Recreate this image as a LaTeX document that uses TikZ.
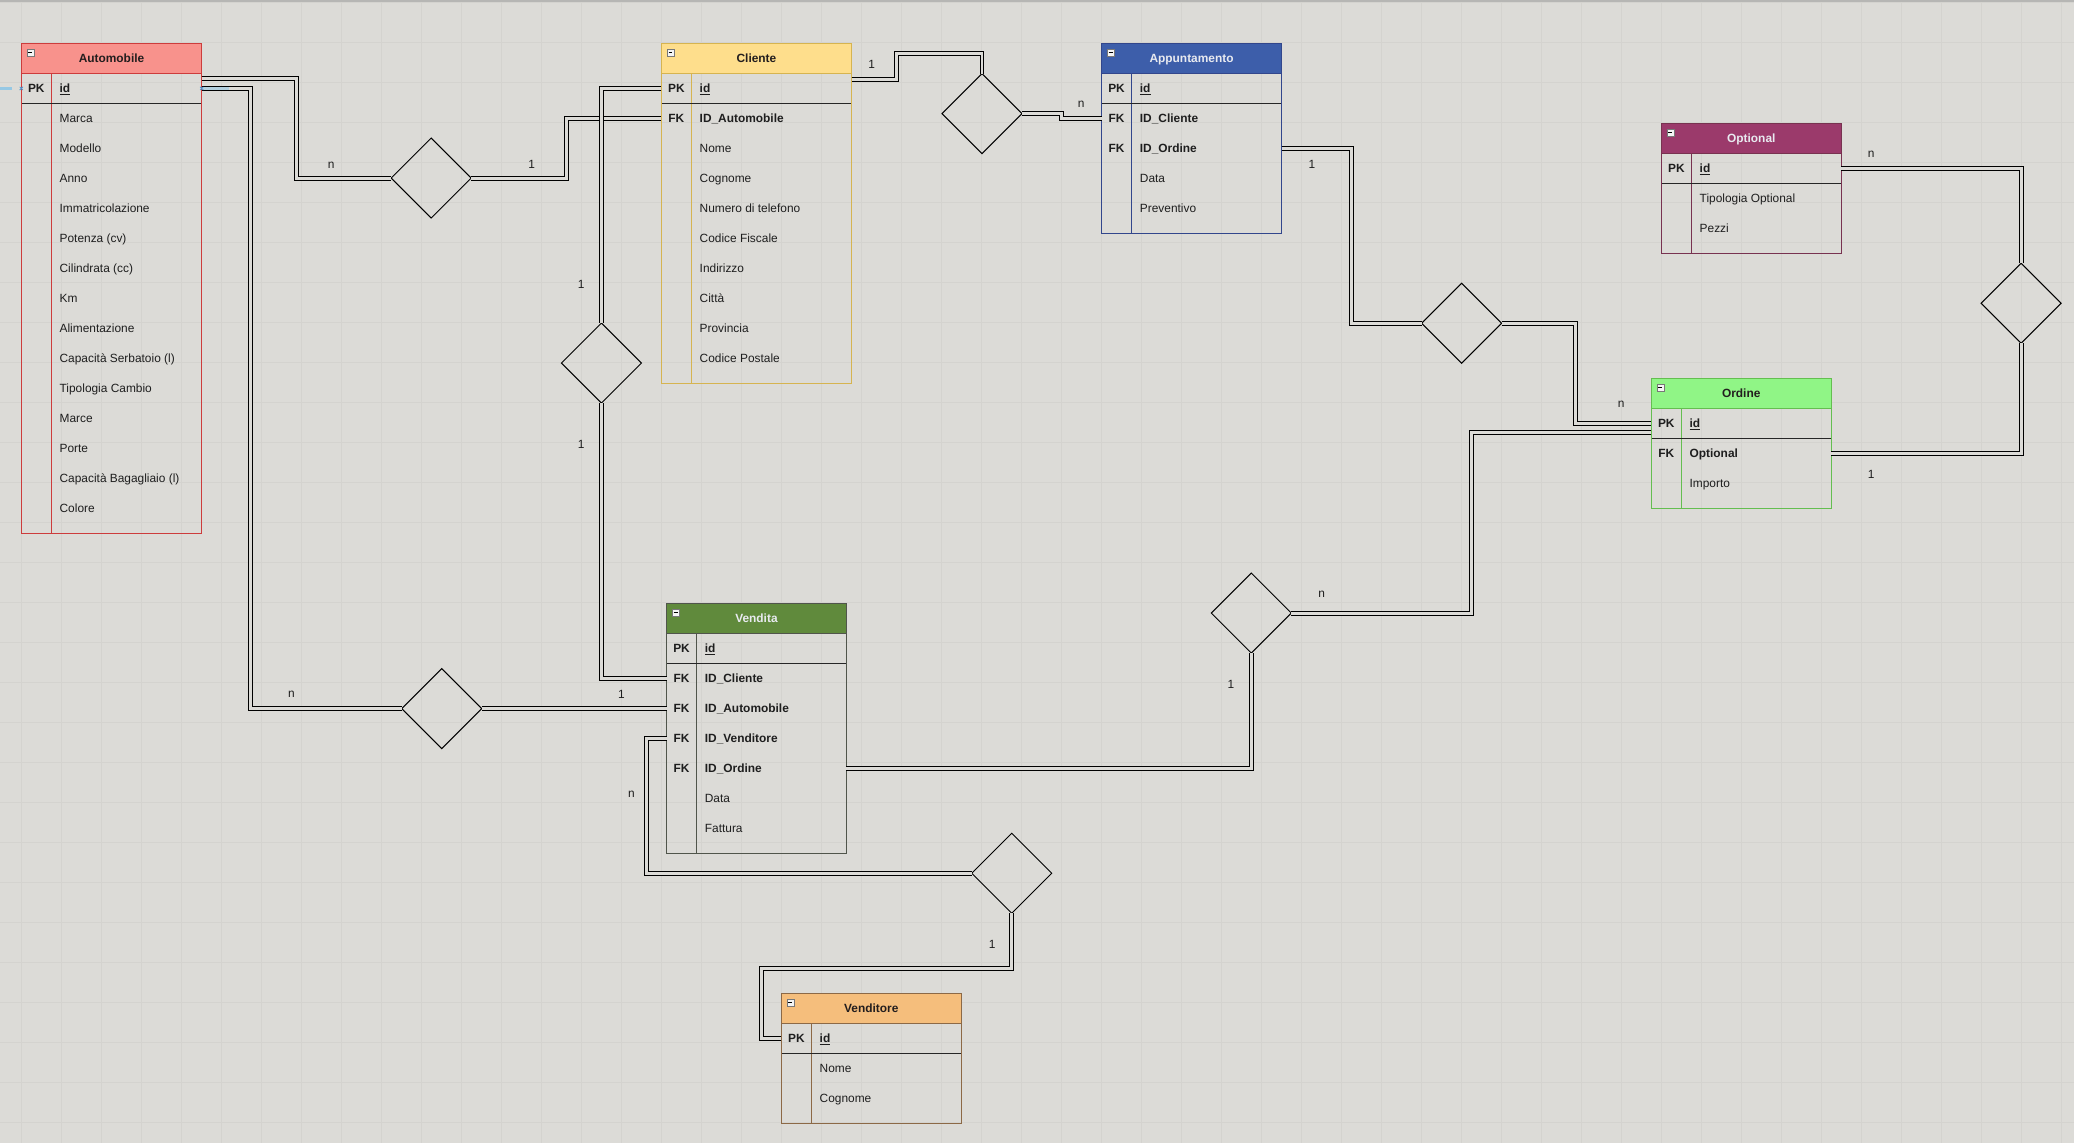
\documentclass[tikz,border=0pt]{standalone}
\usepackage{fontspec}
\setmainfont{Liberation Sans}
\usetikzlibrary{shapes.geometric,calc}
\definecolor{bgc}{RGB}{220,219,215}
\definecolor{gridc}{RGB}{212,211,207}
\definecolor{topc}{RGB}{182,182,180}
\definecolor{txtc}{RGB}{30,30,30}
\definecolor{ttlDark}{RGB}{35,30,30}
\definecolor{ttlLight}{RGB}{232,234,240}
\definecolor{iconc}{RGB}{120,120,120}
\definecolor{selc}{RGB}{150,200,228}
\definecolor{selx}{RGB}{70,150,210}
\definecolor{autoF}{RGB}{248,146,140}
\definecolor{autoB}{RGB}{205,60,60}
\definecolor{cliF}{RGB}{254,222,140}
\definecolor{cliB}{RGB}{214,180,80}
\definecolor{appF}{RGB}{61,94,170}
\definecolor{appB}{RGB}{50,70,140}
\definecolor{optF}{RGB}{155,58,107}
\definecolor{optB}{RGB}{120,50,80}
\definecolor{ordF}{RGB}{144,245,134}
\definecolor{ordB}{RGB}{100,190,80}
\definecolor{venF}{RGB}{96,138,60}
\definecolor{venB}{RGB}{80,85,75}
\definecolor{vdrF}{RGB}{245,190,124}
\definecolor{vdrB}{RGB}{140,105,70}
\newcommand{\erid}{\textbf{\underline{id}}}
\newcommand{\ertable}[9]{%
  \pgfmathsetmacro{\erH}{52.9+#5*22.7}%
  \fill[#6] (#2,#3) rectangle ({#2+#4},{#3+22.7});
  \draw[#7, line width=0.75pt] (#2,{#3+22.7}) -- ({#2+#4},{#3+22.7});
  \draw[#7, line width=0.75pt] ({#2+22.7},{#3+22.7}) -- ({#2+22.7},{#3+\erH});
  \draw[black!85, line width=0.9pt] (#2,{#3+45.4}) -- ({#2+#4},{#3+45.4});
  \node[draw=#7, line width=0.75pt, minimum width=#4pt, minimum height=\erH pt, inner sep=0pt, outer sep=0pt, anchor=north west] (#1) at (#2,#3) {};
  \draw[iconc, fill=white!92!gray, line width=0.4pt] ({#2+4.3},{#3+4.3}) rectangle ({#2+9.5},{#3+9.7});
  \draw[black, line width=0.8pt] ({#2+5.4},{#3+7.1}) -- ({#2+8.4},{#3+7.1});
  \node[ttl, text=#8] (#1-title) at ({#2+#4/2},{#3+12.1}) {#9};
}
\newcommand{\errows}[5]{%
  \foreach \erK/\erA [count=\i from 0] in {#5} {%
    \pgfmathsetmacro{\erY}{#3+34.05+\i*22.7}
    \pgfmathsetmacro{\erT}{\erY+0.8}
    \node[rowc, minimum width=#4pt] (#1-r\i) at ({#2+#4/2},\erY) {};
    \node[keyc] (#1-k\i) at ({#2+11.35},\erT) {\erK};
    \node[attrc] (#1-t\i) at ({#2+28.8},\erT) {\erA};
  }%
}
\begin{document}
\begin{tikzpicture}[x=1pt,y=-1pt,
  ttl/.style={font=\fontsize{9}{10}\selectfont\bfseries, inner sep=0pt, text height=6.6pt, text depth=1.9pt},
  rowc/.style={minimum height=22.7pt, inner sep=0pt, outer sep=0pt, draw=none},
  keyc/.style={font=\fontsize{9}{10}\selectfont\bfseries, text=txtc, inner sep=0pt, text height=6.6pt, text depth=1.9pt},
  attrc/.style={font=\fontsize{9}{10}\selectfont, text=txtc, inner sep=0pt, anchor=west, text height=6.6pt, text depth=1.9pt},
  lab/.style={font=\fontsize{9}{10}\selectfont, text=txtc, inner sep=0pt},
  rel/.style={draw=black, line width=0.75pt, double=bgc, double distance=2.25pt},
  rhomb/.style={diamond, draw=black, line width=0.75pt, minimum width=60.5pt, minimum height=60.5pt, inner sep=0pt, outer sep=0pt}]
\useasboundingbox (0,0) rectangle (1568,864.1);
\fill[bgc] (0,0) rectangle (1568,864.1);
\foreach \gx in {0,...,51} {\draw[gridc, line width=0.9pt] ({16.4+\gx*30.24},0) -- ({16.4+\gx*30.24},864.1);}
\foreach \gy in {0,...,28} {\draw[gridc, line width=0.9pt] (0,{2+\gy*30.24}) -- (1568,{2+\gy*30.24});}
\draw[topc, line width=1.5pt] (0,1.0) -- (1568,1.0);

% tables
\ertable{auto}{16.1}{32.8}{136.4}{14}{autoF}{autoB}{ttlDark}{Automobile}
\errows{auto}{16.1}{32.8}{136.4}{PK/\erid, /Marca, /Modello, /Anno, /Immatricolazione, /Potenza (cv), /Cilindrata (cc), /Km, /Alimentazione, /Capacità Serbatoio (l), /Tipologia Cambio, /Marce, /Porte, /Capacità Bagagliaio (l), /Colore}

\ertable{cli}{500}{32.8}{143.8}{9}{cliF}{cliB}{ttlDark}{Cliente}
\errows{cli}{500}{32.8}{143.8}{PK/\erid, FK/\textbf{ID\_Automobile}, /Nome, /Cognome, /Numero di telefono, /Codice Fiscale, /Indirizzo, /Città, /Provincia, /Codice Postale}

\ertable{app}{832.8}{32.8}{136.1}{4}{appF}{appB}{ttlLight}{Appuntamento}
\errows{app}{832.8}{32.8}{136.1}{PK/\erid, FK/\textbf{ID\_Cliente}, FK/\textbf{ID\_Ordine}, /Data, /Preventivo}

\ertable{opt}{1256}{93.2}{136}{2}{optF}{optB}{ttlLight}{Optional}
\errows{opt}{1256}{93.2}{136}{PK/\erid, /Tipologia Optional, /Pezzi}

\ertable{ord}{1248.4}{286}{136}{2}{ordF}{ordB}{ttlDark}{Ordine}
\errows{ord}{1248.4}{286}{136}{PK/\erid, FK/\textbf{Optional}, /Importo}

\ertable{ven}{503.9}{456.3}{136}{6}{venF}{venB}{ttlLight}{Vendita}
\errows{ven}{503.9}{456.3}{136}{PK/\erid, FK/\textbf{ID\_Cliente}, FK/\textbf{ID\_Automobile}, FK/\textbf{ID\_Venditore}, FK/\textbf{ID\_Ordine}, /Data, /Fattura}

\ertable{vdr}{590.7}{751}{136}{2}{vdrF}{vdrB}{ttlDark}{Venditore}
\errows{vdr}{590.7}{751}{136}{PK/\erid, /Nome, /Cognome}

% relationship diamonds
\node[rhomb] (d1) at (326,134.6) {};
\node[rhomb] (d2) at (454.7,274.5) {};
\node[rhomb] (d3) at (742.4,85.9) {};
\node[rhomb] (d4) at (1105,244.4) {};
\node[rhomb] (d5) at (334,535.75) {};
\node[rhomb] (d6) at (946,463.5) {};
\node[rhomb] (d7) at (1528,229.3) {};
\node[rhomb] (d8) at (764.9,660.2) {};

% connectors
\draw[rel] ([yshift=7.4pt]auto-r0.east) -- ++(71.3,0) |- (d1.west);
\draw[rel] (d1.east) -- ++(72.3,0) |- (cli-r1.west);
\draw[rel] (cli-r0.west) -| (d2.north);
\draw[rel] (d2.south) |- (ven-r1.west);
\draw[rel] (auto-r0.east) -- ++(36.9,0) |- (d5.west);
\draw[rel] (d5.east) -- (ven-r2.west);
\draw[rel] ([yshift=7.1pt]cli-r0.east) -- ++(33.8,0) -- ++(0,-19.4) -| (d3.north);
\draw[rel] (d3.east) -- ++(30,0) |- (app-r1.west);
\draw[rel] (app-r2.east) -- ++(52.6,0) |- (d4.west);
\draw[rel] (d4.east) -- ++(56.2,0) |- (ord-r0.west);
\draw[rel] ([yshift=-6.9pt]ord-r0.west) -- ++(-136.2,0) |- (d6.east);
\draw[rel] (d6.south) |- (ven-r4.east);
\draw[rel] (ord-r1.east) -| (d7.south);
\draw[rel] (d7.north) |- (opt-r0.east);
\draw[rel] (ven-r3.west) -- ++(-15.1,0) |- (d8.west);
\draw[rel] (d8.south) -- ++(0,41.8) -| ([xshift=-15pt]vdr-r0.west) -- (vdr-r0.west);

% cardinality labels
\node[lab] (l1) at (250.4,124.6) {n};
\node[lab] (l2) at (402,124.6) {1};
\node[lab] (l3) at (439.4,215) {1};
\node[lab] (l4) at (439.4,336.2) {1};
\node[lab] (l5) at (220.4,525.1) {n};
\node[lab] (l6) at (469.8,525.1) {1};
\node[lab] (l7) at (659,48.5) {1};
\node[lab] (l8) at (817.3,79.2) {n};
\node[lab] (l9) at (991.8,124.1) {1};
\node[lab] (l10) at (1225.6,306) {n};
\node[lab] (l11) at (1414.6,116.6) {n};
\node[lab] (l12) at (1414.6,358.4) {1};
\node[lab] (l13) at (999.3,449.6) {n};
\node[lab] (l14) at (930.7,517.2) {1};
\node[lab] (l15) at (477.3,600.6) {n};
\node[lab] (l16) at (750.2,713.8) {1};

% selection marks on Automobile id
\draw[selc, line width=2.2pt] (0,66.85) -- (9,66.85);
\draw[selc, line width=2.6pt, opacity=0.6] (153.5,66.85) -- (173,66.85);
\draw[selx, line width=0.6pt] (14.9,65.65) -- (17.3,68.05) (14.9,68.05) -- (17.3,65.65);
\draw[selx, line width=0.6pt] (151.3,65.65) -- (153.7,68.05) (151.3,68.05) -- (153.7,65.65);
\end{tikzpicture}
\end{document}
